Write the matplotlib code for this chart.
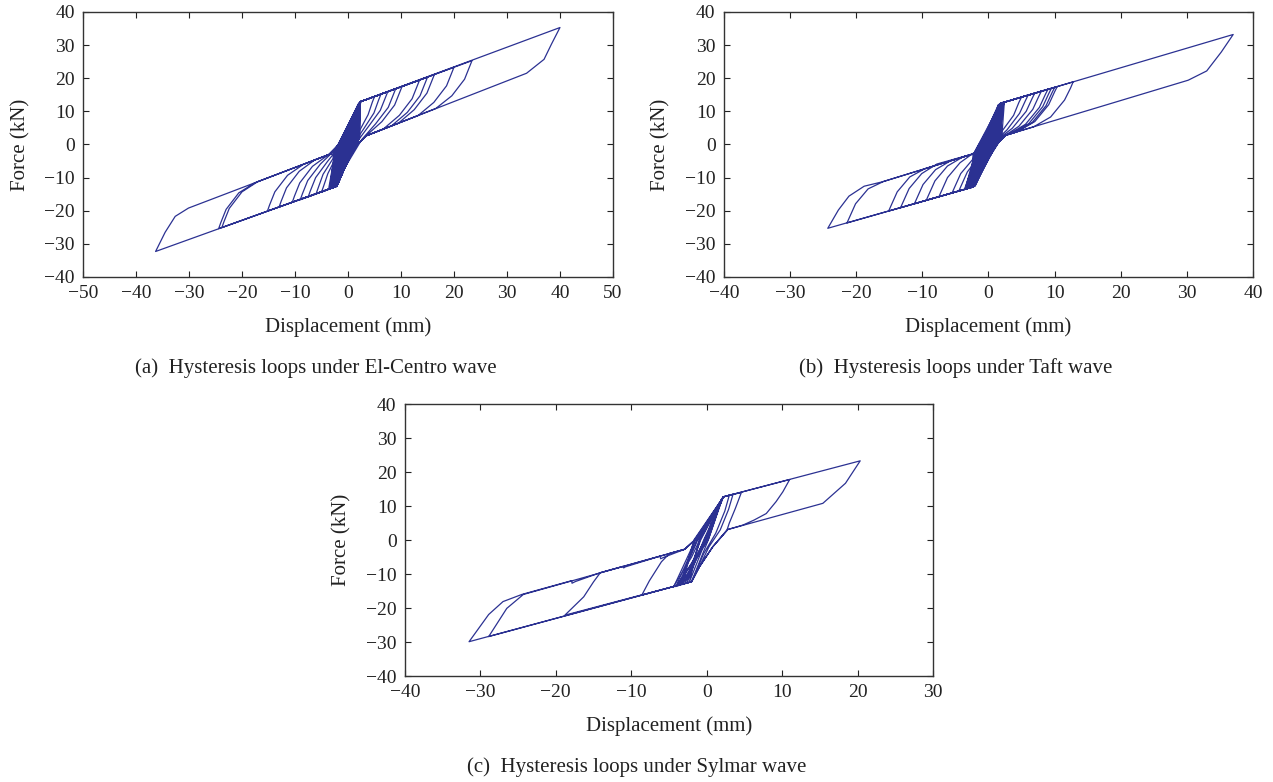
import matplotlib
matplotlib.use('Agg')
import matplotlib.pyplot as plt

plt.rcParams['font.family'] = ['Liberation Serif', 'DejaVu Serif']

line_color = '#2b3192'
force_ticks = [-40, -30, -20, -10, 0, 10, 20, 30, 40]

# (a) El-Centro: flag loops (displacement mm, force kN)
a_loop_disp = [
    2.3,
    10.2, 9.8, 8.8, 6.4, 3.4, 1.5, -0.6, -2.1,
    -9.0, -8.6, -7.6, -5.2, -3.2, -1.5, 0.6, 2.3,
    16.3, 15.9, 14.9, 12.5, 9.5, 3.4, 1.5, -0.6, -2.1,
    -15.2, -14.8, -13.8, -11.4, -8.4, -3.2, -1.5, 0.6, 2.3,
    40.0, 38.4, 37.0, 33.7, 3.4, 1.5, -0.6, -2.1,
    -36.3, -34.5, -32.6, -30.1, -3.2, -1.5, 0.6, 2.3,
    23.4, 23.0, 22.0, 19.6, 16.6, 3.4, 1.5, -0.6, -2.1,
    -24.4, -24.0, -23.0, -20.6, -17.6, -3.2, -1.5, 0.6, 2.3,
    20.0, 19.6, 18.6, 16.2, 13.2, 3.4, 1.5, -0.6, -2.1,
    -23.8, -23.4, -22.4, -20.0, -17.0, -3.2, -1.5, 0.6, 2.3,
    15.0, 14.6, 13.6, 11.2, 8.2, 3.4, 1.5, -0.6, -2.1,
    -13.0, -12.6, -11.6, -9.2, -6.2, -3.2, -1.5, 0.6, 2.3,
    13.5, 13.1, 12.1, 9.7, 6.7, 3.4, 1.5, -0.6, -2.1,
    -10.5, -10.1, -9.1, -6.7, -3.7, -1.5, 0.6, 2.3,
    9.0, 8.6, 7.6, 5.2, 2.6, -0.6, -2.1,
    -7.5, -7.1, -6.1, -3.9, -1.9, 0.6, 2.3,
    7.5, 7.1, 6.1, 3.9, 1.8, -0.6, -2.1,
    -6.0, -5.6, -4.7, -2.8, -1.2, 0.6, 2.3,
    6.2, 5.8, 4.9, 3.0, 1.2, -0.6, -2.1,
    -5.0, -4.6, -3.8, -2.3, -0.8, 0.6, 2.3,
    5.0, 4.6, 3.8, 2.3, 0.8, -0.6, -2.1,
]
a_loop_force = [
    12.9,
    17.5, 15.9, 11.9, 6.9, 2.6, -0.5, -7.0, -12.6,
    -16.7, -14.9, -10.9, -5.9, -2.8, 0.5, 7.0, 12.9,
    21.1, 19.5, 15.5, 10.5, 6.4, 2.6, -0.5, -7.0, -12.6,
    -20.1, -18.3, -14.3, -9.3, -6.0, -2.8, 0.5, 7.0, 12.9,
    35.3, 30.3, 25.7, 21.5, 2.6, -0.5, -7.0, -12.6,
    -32.3, -26.5, -21.7, -19.2, -2.8, 0.5, 7.0, 12.9,
    25.3, 23.7, 19.7, 14.7, 10.9, 2.6, -0.5, -7.0, -12.6,
    -25.4, -23.6, -19.6, -14.6, -11.6, -2.8, 0.5, 7.0, 12.9,
    23.3, 21.7, 17.7, 12.7, 8.7, 2.6, -0.5, -7.0, -12.6,
    -25.1, -23.3, -19.3, -14.3, -11.2, -2.8, 0.5, 7.0, 12.9,
    20.3, 18.7, 14.7, 9.7, 5.6, 2.6, -0.5, -7.0, -12.6,
    -18.9, -17.1, -13.1, -8.1, -4.6, -2.8, 0.5, 7.0, 12.9,
    19.4, 17.8, 13.8, 8.8, 4.7, 2.6, -0.5, -7.0, -12.6,
    -17.4, -15.6, -11.6, -6.6, -3.1, 0.5, 7.0, 12.9,
    16.8, 15.2, 11.2, 6.2, 1.5, -7.0, -12.6,
    -15.8, -14.0, -10.0, -5.2, -1.2, 7.0, 12.9,
    15.9, 14.3, 10.3, 5.5, 1.0, -7.0, -12.6,
    -14.8, -13.0, -9.0, -4.2, -0.3, 7.0, 12.9,
    15.1, 13.5, 9.5, 4.8, 0.5, -7.0, -12.6,
    -14.4, -12.6, -8.8, -4.0, 0.0, 7.0, 12.9,
    14.4, 12.8, 9.0, 4.5, 0.0, -7.0, -12.6,
]
# (a) small cycles in the stiff core: bottom, left side, top, right side
a_core_disp = [
    -2.1, -2.8, 2.3, 2.2,   -2.6, -1.2, 2.2, 0.4,   -3.0, -2.2, 2.0, 1.4,
    -2.4, -1.6, 2.4, 0.9,   -3.4, -2.6, 1.9, 1.8,   -2.2, -1.0, 2.3, 0.6,
    -1.9, -2.0, 1.7, 1.2,   -2.8, -2.4, 2.1, 2.0,   -3.2, -1.4, 2.2, 0.3,
    -2.0, -1.8, 2.4, 1.6,   -2.5, -2.7, 2.0, 1.0,   -1.6, -1.1, 1.4, 0.7,
    -2.9, -2.1, 2.3, 2.1,   -2.3, -1.5, 2.1, 1.5,   -3.6, -2.5, 2.4, 0.5,
    -2.7, -1.3, 1.9, 1.9,   -2.1, -1.9, 2.2, 1.1,   -1.8, -2.3, 1.6, 0.8,
    -3.1, -1.7, 2.3, 1.7,   -2.4, -2.8, 2.0, 0.2,   -2.2, -1.0, 2.4, 1.3,
    -3.3, -2.2, 2.2, 2.2,   -2.6, -1.6, 1.9, 0.6,   -1.9, -2.6, 2.3, 1.4,
    -3.0, -1.2, 2.1, 1.0,   -2.5, -2.0, 2.0, 1.8,   -2.8, -2.4, 2.4, 0.4,
    -2.0, -1.4, 1.8, 1.6,   -3.4, -1.8, 2.2, 1.2,   -2.3, -2.1, 2.3, 0.9,
    -2.1,
]
a_core_force = [
    -12.6, -3, 12.9, 2,   -12.8, -3, 12.6, 2,   -12.9, -3, 12.3, 2,
    -12.7, -3, 13.0, 2,   -13.0, -3, 12.0, 2,   -12.5, -3, 12.8, 2,
    -11.8, -3, 11.2, 2,   -12.8, -3, 12.5, 2,   -12.9, -3, 12.7, 2,
    -12.2, -3, 12.9, 2,   -12.7, -3, 12.2, 2,   -10.8, -3, 10.0, 2,
    -12.9, -3, 12.8, 2,   -12.6, -3, 12.4, 2,   -13.0, -3, 13.0, 2,
    -12.8, -3, 11.9, 2,   -12.4, -3, 12.6, 2,   -11.4, -3, 10.8, 2,
    -12.9, -3, 12.9, 2,   -12.7, -3, 12.3, 2,   -12.5, -3, 13.0, 2,
    -13.0, -3, 12.6, 2,   -12.8, -3, 12.0, 2,   -12.0, -3, 12.9, 2,
    -12.9, -3, 12.4, 2,   -12.7, -3, 12.3, 2,   -12.8, -3, 13.0, 2,
    -12.2, -3, 11.6, 2,   -13.0, -3, 12.7, 2,   -12.6, -3, 12.8, 2,
    -12.6,
]

# (b) Taft
b_loop_disp = [
    1.8,
    10.0, 9.6, 8.7, 6.6, 4.0, 2.6, 1.0, -1.0, -2.3,
    -9.4, -9.0, -8.1, -6.2, -3.9, -2.1, -0.8, 0.6, 1.8,
    12.8, 12.4, 11.5, 9.4, 6.8, 2.6, 1.0, -1.0, -2.3,
    -15.1, -14.7, -13.8, -11.9, -9.6, -2.1, -0.8, 0.6, 1.8,
    37.0, 35.2, 33.0, 30.2, 2.6, 1.0, -1.0, -2.3,
    -24.3, -22.7, -21.1, -18.8, -16.1, -2.1, -0.8, 0.6, 1.8,
    10.4, 10.0, 9.1, 7.0, 4.4, 2.6, 1.0, -1.0, -2.3,
    -21.4, -21.0, -20.1, -18.2, -15.9, -2.1, -0.8, 0.6, 1.8,
    9.5, 9.1, 8.2, 6.1, 3.5, 2.6, 1.0, -1.0, -2.3,
    -13.3, -12.9, -12.0, -10.1, -7.8, -2.1, -0.8, 0.6, 1.8,
    9.0, 8.6, 7.7, 5.6, 3.0, 2.6, 1.0, -1.0, -2.3,
    -11.2, -10.8, -9.9, -8.0, -5.7, -2.1, -0.8, 0.6, 1.8,
    8.0, 7.6, 6.7, 4.6, 2.2, 1.0, -1.0, -2.3,
    -7.5, -7.1, -6.2, -4.3, -2.0, -0.8, 0.6, 1.8,
    7.0, 6.6, 5.7, 3.6, 1.4, -1.0, -2.3,
    -5.5, -5.1, -4.2, -2.3, -0.5, 0.6, 1.8,
    6.0, 5.6, 4.7, 2.8, 0.9, -1.0, -2.3,
    -4.5, -4.1, -3.2, -1.5, 0.0, 0.6, 1.8,
    5.0, 4.6, 3.8, 2.0, 0.5, -1.0, -2.3,
]
b_loop_force = [
    12.4,
    17.2, 15.6, 11.7, 6.6, 3.6, 2.8, -0.5, -7.2, -12.8,
    -16.8, -15.0, -11.0, -6.5, -3.8, -2.7, 0.5, 7.0, 12.4,
    18.9, 17.0, 13.4, 8.3, 5.3, 2.8, -0.5, -7.2, -12.8,
    -20.1, -18.3, -14.3, -9.8, -7.3, -2.7, 0.5, 7.0, 12.4,
    33.2, 27.9, 22.2, 19.4, 2.8, -0.5, -7.2, -12.8,
    -25.3, -19.8, -15.6, -12.6, -11.3, -2.7, 0.5, 7.0, 12.4,
    17.5, 15.9, 12.0, 6.9, 3.9, 2.8, -0.5, -7.2, -12.8,
    -23.7, -21.9, -17.9, -13.4, -11.2, -2.7, 0.5, 7.0, 12.4,
    16.9, 15.3, 11.4, 6.3, 3.3, 2.8, -0.5, -7.2, -12.8,
    -19.1, -17.3, -13.3, -8.8, -5.9, -2.7, 0.5, 7.0, 12.4,
    16.7, 15.1, 11.2, 6.1, 3.0, 2.8, -0.5, -7.2, -12.8,
    -17.9, -16.1, -12.1, -7.6, -4.9, -2.7, 0.5, 7.0, 12.4,
    16.1, 14.5, 10.6, 5.5, 2.3, -0.5, -7.2, -12.8,
    -15.8, -14.0, -10.0, -5.5, -2.2, 0.5, 7.0, 12.4,
    15.5, 13.9, 10.0, 4.9, 1.5, -7.2, -12.8,
    -14.6, -12.8, -8.8, -4.3, -0.5, 7.0, 12.4,
    14.9, 13.3, 9.4, 4.4, 0.8, -7.2, -12.8,
    -14.1, -12.3, -8.3, -3.8, 0.0, 7.0, 12.4,
    14.3, 12.7, 8.8, 3.9, 0.2, -7.2, -12.8,
]
b_core_disp = [
    -2.3, -2.3, 1.8, 2.0,   -2.8, -0.9, 1.9, 0.5,   -3.2, -1.7, 2.1, 1.3,
    -2.5, -1.2, 1.6, 0.9,   -3.5, -2.1, 2.3, 1.7,   -2.1, -0.7, 1.7, 0.6,
    -2.9, -1.5, 2.0, 1.2,   -3.3, -1.9, 1.5, 1.9,   -2.6, -1.0, 2.2, 0.4,
    -2.2, -1.4, 1.8, 1.5,   -3.0, -2.2, 2.4, 1.0,   -2.4, -0.8, 1.9, 1.8,
    -3.4, -1.6, 1.6, 0.7,   -2.7, -1.1, 2.1, 1.4,   -2.0, -2.0, 1.7, 0.5,
    -3.1, -0.9, 2.3, 1.6,   -2.5, -1.3, 1.8, 1.1,   -3.6, -1.8, 2.0, 0.8,
    -2.8, -1.2, 1.5, 1.7,   -2.2, -2.3, 2.2, 0.4,   -3.0, -0.7, 1.9, 1.3,
    -2.6, -1.7, 2.4, 2.0,   -3.3, -1.0, 1.7, 0.6,   -2.4, -2.1, 2.1, 1.4,
    -2.1, -1.4, 1.8, 0.9,   -3.2, -1.5, 2.0, 1.6,   -2.7, -1.9, 2.3, 0.5,
    -3.5, -0.8, 1.6, 1.5,   -2.3, -1.6, 1.9, 1.2,   -2.9, -1.2, 2.2, 0.8,
    -2.3,
]
b_core_force = [
    -12.8, -3, 12.4, 2,   -13.0, -3, 12.5, 2,   -13.2, -3, 12.7, 2,
    -12.9, -3, 12.1, 2,   -13.3, -3, 12.8, 2,   -12.6, -3, 12.3, 2,
    -13.1, -3, 12.6, 2,   -13.2, -3, 12.0, 2,   -12.9, -3, 12.7, 2,
    -12.7, -3, 12.4, 2,   -13.1, -3, 12.9, 2,   -12.8, -3, 12.5, 2,
    -13.3, -3, 12.1, 2,   -13.0, -3, 12.6, 2,   -12.5, -3, 12.2, 2,
    -13.2, -3, 12.8, 2,   -12.9, -3, 12.4, 2,   -13.4, -3, 12.6, 2,
    -13.0, -3, 12.0, 2,   -12.7, -3, 12.7, 2,   -13.1, -3, 12.5, 2,
    -12.9, -3, 12.9, 2,   -13.2, -3, 12.2, 2,   -12.8, -3, 12.6, 2,
    -12.6, -3, 12.4, 2,   -13.2, -3, 12.6, 2,   -13.0, -3, 12.8, 2,
    -13.3, -3, 12.1, 2,   -12.8, -3, 12.5, 2,   -13.1, -3, 12.7, 2,
    -12.8,
]

# (c) Sylmar
c_loop_disp = [
    0.0, 0.8, 2.2,
    4.6, 3.8, 3.0, 2.7, 0.8, -1.0, -2.0,
    -8.6, -7.6, -6.0, -4.9, -2.9, -1.1, 0.8, 2.2,
    11.0, 10.1, 9.2, 7.9, 6.3, 4.8, 2.8, 0.8, -1.0, -2.0,
    -18.8, -16.3, -15.0, -14.1, -11.1, -11.0, -10.8, -6.2, -6.1, -5.6, -2.9, -1.1, 0.8, 2.2,
    20.35, 18.4, 15.4, 2.8, 0.8, -1.0, -2.0,
    -31.5, -28.9, -27.0, -24.5, -17.9, -17.85, -17.4, -14.1, -2.9, -1.1, 0.8, 2.2,
    3.5, 2.9, 1.8, 0.3, -1.0, -2.0,
    -28.9, -26.5, -24.3, -2.9, -1.1, 0.8, 2.2,
    3.0, 2.4, 1.2, -0.4, -2.0,
    -4.4, -2.0, -0.5, 2.2,
]
c_loop_force = [
    0.0, 7.5, 12.7,
    14.0, 9.3, 5.0, 3.0, -2.0, -8.0, -12.25,
    -16.2, -12.0, -6.4, -3.9, -2.7, 1.0, 7.5, 12.7,
    17.8, 14.2, 11.3, 7.8, 5.9, 4.4, 3.1, -2.0, -8.0, -12.25,
    -22.1, -16.7, -12.3, -9.6, -7.75, -8.2, -7.9, -4.75, -5.5, -5.0, -2.7, 1.0, 7.5, 12.7,
    23.3, 16.7, 10.8, 3.1, -2.0, -8.0, -12.25,
    -29.9, -21.9, -18.1, -16.0, -11.95, -12.7, -12.2, -9.6, -2.7, 1.0, 7.5, 12.7,
    13.5, 9.0, 3.0, -2.0, -8.0, -12.25,
    -28.4, -20.1, -16.0, -2.7, 1.0, 7.5, 12.7,
    13.2, 8.5, 2.0, -4.0, -12.25,
    -13.7, -5.0, 2.0, 12.7,
]
c_core_disp = [
    -4.4, -1.5, 2.2, -0.2, -3.8, -1.2, 2.1, 0.0, -3.2, -1.7, 2.2, -0.4,
    -2.6, -0.9, 2.0, 0.2, -4.1, -1.3, 2.2, -0.1, -2.3, -1.0, 1.9, 0.1,
    -3.5, -1.6, 2.2, -0.3, -2.9, -0.8, 2.1, 0.2, -2.0,
]
c_core_force = [
    -13.9, 0, 12.7, 0, -13.5, 0, 12.4, 0, -13.1, 0, 12.6, 0,
    -12.6, 0, 12.0, 0, -13.7, 0, 12.7, 0, -12.4, 0, 11.5, 0,
    -13.3, 0, 12.6, 0, -12.9, 0, 12.3, 0, -12.25,
]

panels = [
    ([0.0652, 0.6458, 0.4163, 0.3389], [-50, -40, -30, -20, -10, 0, 10, 20, 30, 40, 50],
     a_loop_disp, a_loop_force, a_core_disp, a_core_force),
    ([0.5687, 0.6458, 0.4156, 0.3389], [-40, -30, -20, -10, 0, 10, 20, 30, 40],
     b_loop_disp, b_loop_force, b_core_disp, b_core_force),
    ([0.3181, 0.1355, 0.4148, 0.3478], [-40, -30, -20, -10, 0, 10, 20, 30],
     c_loop_disp, c_loop_force, c_core_disp, c_core_force),
]
captions = ['(a)  Hysteresis loops under El-Centro wave',
            '(b)  Hysteresis loops under Taft wave',
            '(c)  Hysteresis loops under Sylmar wave']
caption_pos = [(316, 368), (956, 368), (637, 767)]

fig = plt.figure(figsize=(12.73, 7.82), dpi=100)

for (rect, xticks, ld, lf, cd, cf), cap, (cx, cy) in zip(panels, captions, caption_pos):
    ax = fig.add_axes(rect)
    ax.plot(cd, cf, color=line_color, lw=0.9)
    ax.plot(ld, lf, color=line_color, lw=0.9)
    ax.set_xlim(xticks[0], xticks[-1])
    ax.set_ylim(-40, 40)
    ax.set_xticks(xticks)
    ax.set_yticks(force_ticks)
    ax.tick_params(direction='in', top=True, right=True, length=4, width=0.8,
                   labelsize=14, pad=6, colors='#222222')
    for s in ax.spines.values():
        s.set_linewidth(1.0)
        s.set_color('#333333')
    hpx = rect[3] * 782
    wpx = rect[2] * 1273
    ax.set_xlabel('Displacement (mm)', fontsize=15, color='#222222')
    ax.xaxis.set_label_coords(0.5, -40 / hpx)
    ax.set_ylabel('Force (kN)', fontsize=15, color='#222222')
    ax.yaxis.set_label_coords(-53 / wpx, 0.5)
    fig.text(cx / 1273, 1 - cy / 782, cap, ha='center', va='center',
             fontsize=15, color='#222222')

fig.savefig('out.png', dpi=100)
